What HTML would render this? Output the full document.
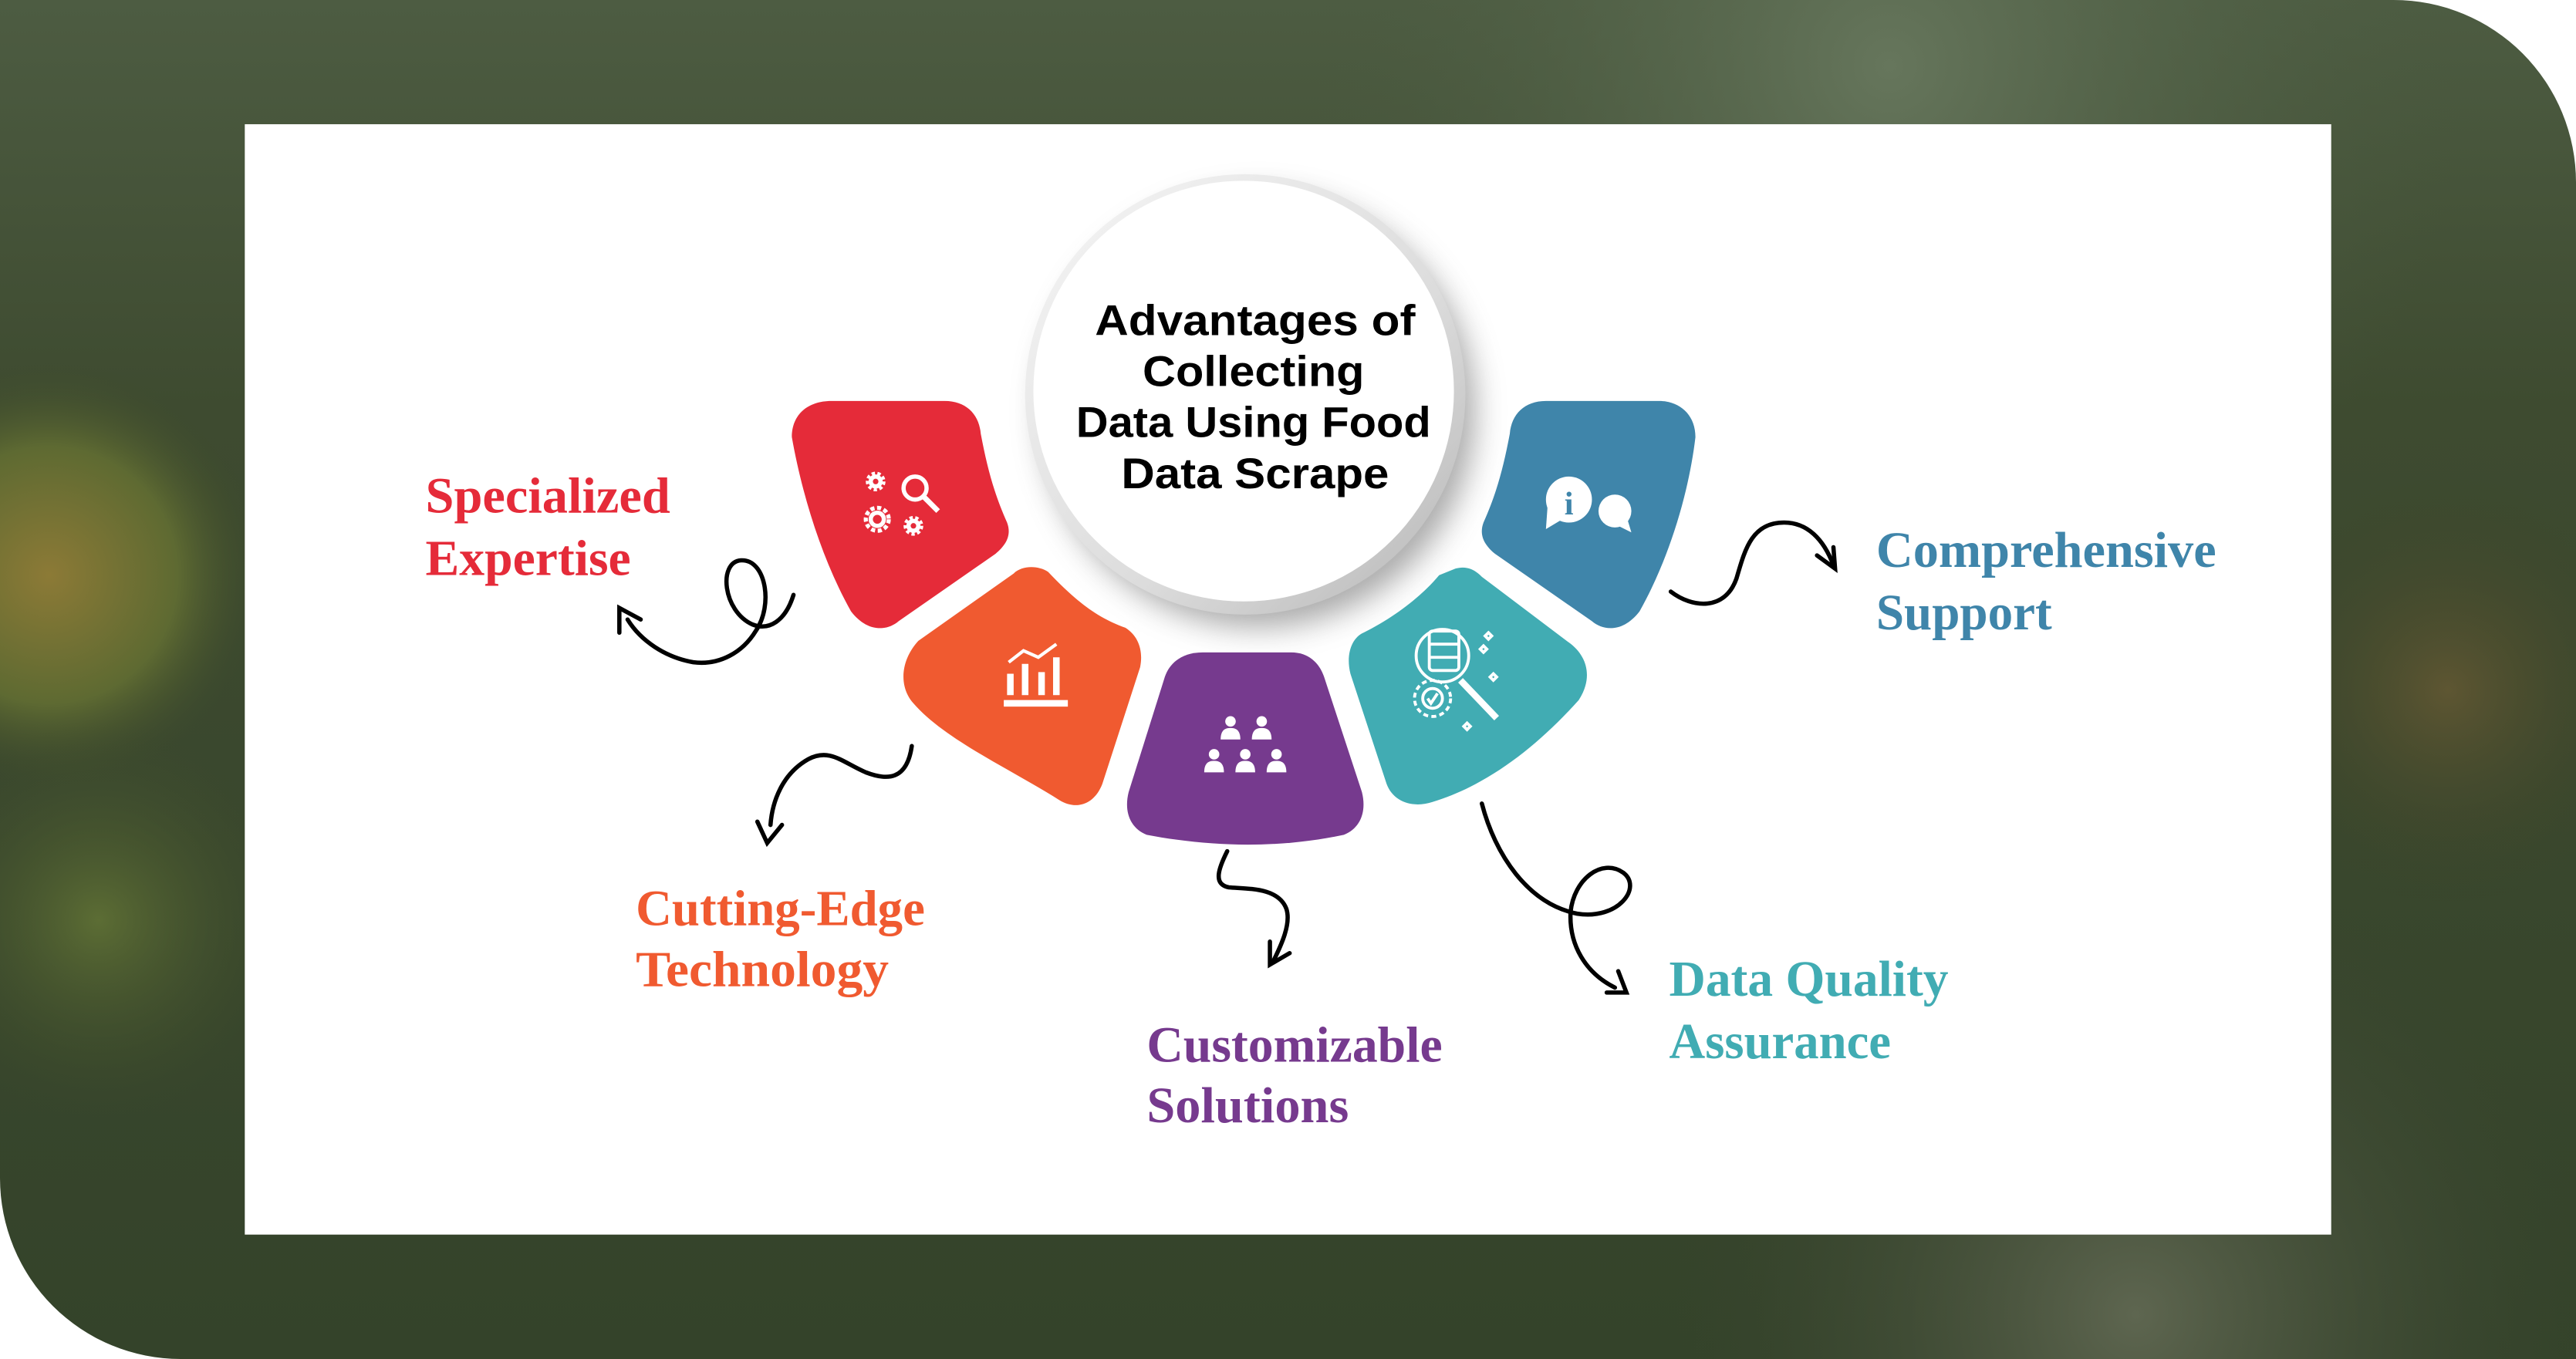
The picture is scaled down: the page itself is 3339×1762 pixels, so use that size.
<!DOCTYPE html>
<html><head><meta charset="utf-8">
<style>html,body{margin:0;padding:0;background:#fff;}svg{display:block}</style>
</head><body>
<svg width="3339" height="1762" viewBox="0 0 1568 827" xmlns="http://www.w3.org/2000/svg" preserveAspectRatio="none">
<defs>
<clipPath id="frame"><path d="M0,0 H1457 A111,111 0 0 1 1568,111 V827 H110 A110,110 0 0 1 0,717 Z"/></clipPath>
<linearGradient id="vg" x1="0" y1="0" x2="0" y2="1"><stop offset="0" stop-color="#4d5c42"/><stop offset="0.3" stop-color="#3e4b30"/><stop offset="1" stop-color="#34432a"/></linearGradient>
<radialGradient id="g1" cx="30" cy="350" r="130" gradientUnits="userSpaceOnUse"><stop offset="0" stop-color="#8c7a36"/><stop offset="0.6" stop-color="#5e6a32"/><stop offset="1" stop-color="#3d4a2a" stop-opacity="0"/></radialGradient>
<radialGradient id="g2" cx="60" cy="560" r="120" gradientUnits="userSpaceOnUse"><stop offset="0" stop-color="#5c6d34"/><stop offset="1" stop-color="#3d4a2a" stop-opacity="0"/></radialGradient>
<radialGradient id="g3" cx="1150" cy="40" r="350" gradientUnits="userSpaceOnUse"><stop offset="0" stop-color="#66765c"/><stop offset="1" stop-color="#4a5a40" stop-opacity="0"/></radialGradient>
<radialGradient id="g4" cx="1490" cy="420" r="130" gradientUnits="userSpaceOnUse"><stop offset="0" stop-color="#5e5632"/><stop offset="1" stop-color="#3a4228" stop-opacity="0"/></radialGradient>
<radialGradient id="g5" cx="1300" cy="800" r="280" gradientUnits="userSpaceOnUse"><stop offset="0" stop-color="#5e6650"/><stop offset="1" stop-color="#3a4430" stop-opacity="0"/></radialGradient>
<filter id="blur" x="-30%" y="-30%" width="160%" height="160%"><feGaussianBlur stdDeviation="9"/></filter>
<linearGradient id="ring" x1="0" y1="0" x2="1" y2="1"><stop offset="0" stop-color="#f6f6f6"/><stop offset="0.6" stop-color="#dcdcdc"/><stop offset="1" stop-color="#b5b5b5"/></linearGradient>
<g id="p"><circle cx="0" cy="0" r="3.2"/><path d="M-6,11 C-6,5 -3,4 0,4 C3,4 6,5 6,11 Z"/></g>
</defs>
<g clip-path="url(#frame)">
<rect width="1568" height="827" fill="url(#vg)"/>
<rect width="1568" height="827" fill="url(#g3)"/>
<rect width="1568" height="827" fill="url(#g1)"/>
<rect width="1568" height="827" fill="url(#g2)"/>
<rect width="1568" height="827" fill="url(#g4)"/>
<rect width="1568" height="827" fill="url(#g5)"/>
</g>
<rect x="149" y="75.6" width="1270" height="675.7" fill="#fff"/>

<circle cx="766" cy="250" r="132" fill="#666" opacity="0.55" filter="url(#blur)"/>
<circle cx="758" cy="240" r="134" fill="url(#ring)"/>
<circle cx="757" cy="238" r="128" fill="#fff"/>
<g font-family="'Liberation Sans',sans-serif" font-weight="bold" font-size="26" fill="#000" text-anchor="middle">
<text x="764" y="204" textLength="195" lengthAdjust="spacingAndGlyphs">Advantages of</text>
<text x="763" y="235" textLength="135" lengthAdjust="spacingAndGlyphs">Collecting</text>
<text x="763" y="266" textLength="216" lengthAdjust="spacingAndGlyphs">Data Using Food</text>
<text x="764" y="297" textLength="163" lengthAdjust="spacingAndGlyphs">Data Scrape</text>
</g>

<path fill="#e52b39" d="M482,266 C482,252 492,244 506,244 L575,244 C588,244 596,252 597,264 C601,285 605,300 613,318 C616,326 612,332 606,337 L547,378 C540,384 528,385 518,372 C500,340 488,300 482,266 Z"/>
<path fill="#f05a30" d="M617,349 C622,344 632,344 638,348 C655,366 668,376 685,382 C693,387 696,396 694,406 L671,477 C666,490 655,493 645,487 C615,468 575,450 556,428 C547,418 548,402 559,390 Z"/>
<path fill="#763a8e" d="M732,397 L786,397 C796,397 803,403 806,412 L829,482 C832,494 828,504 818,508 C780,516 740,516 698,508 C688,504 684,494 687,482 L709,412 C712,403 720,397 732,397 Z"/>
<path fill="#41acb3" d="M886,346 C893,344 898,347 902,351 L955,391 C966,399 970,412 961,426 C935,455 905,478 872,488 C860,492 848,488 844,477 L822,410 C819,398 823,388 830,385 C850,375 866,362 876,350 Z"/>
<path fill="#3f85aa" d="M1032,266 C1032,252 1022,244 1010,244 L941,244 C928,244 920,252 919,264 C915,285 911,300 903,318 C900,326 904,332 910,337 L969,378 C976,384 988,385 998,372 C1016,340 1028,300 1032,266 Z"/>

<g fill="none" stroke="#fff" stroke-width="2.6">
 <circle cx="557" cy="297" r="7"/><line x1="562" y1="302" x2="571" y2="311" stroke-width="3.2"/>
 <circle cx="533" cy="293" r="3"/><circle cx="534" cy="316" r="4"/><circle cx="556" cy="320" r="3"/>
</g>
<g fill="#fff">
 <circle cx="533" cy="293" r="5" fill="none" stroke="#fff" stroke-width="2" stroke-dasharray="2 1.5"/>
 <circle cx="534" cy="316" r="7" fill="none" stroke="#fff" stroke-width="2.5" stroke-dasharray="2.5 1.6"/>
 <circle cx="556" cy="320" r="5" fill="none" stroke="#fff" stroke-width="2" stroke-dasharray="2 1.5"/>
 <rect x="611" y="426" width="39" height="4"/>
 <rect x="613" y="410" width="4" height="13"/><rect x="622" y="404" width="4" height="19"/><rect x="632" y="409" width="4" height="14"/><rect x="641" y="400" width="4" height="23"/>
</g>
<polyline points="614,403 623,396 632,400 643,392" fill="none" stroke="#fff" stroke-width="2"/>
<g fill="#fff">
 <use href="#p" x="749" y="439"/><use href="#p" x="768" y="439"/>
 <use href="#p" x="739" y="459"/><use href="#p" x="758" y="459"/><use href="#p" x="777" y="459"/>
</g>
<g fill="none" stroke="#fff" stroke-width="1.8">
 <rect x="870" y="384" width="18" height="24" rx="2"/><line x1="870" y1="392" x2="888" y2="392"/><line x1="870" y1="400" x2="888" y2="400"/>
 <circle cx="878" cy="399" r="16"/>
 <line x1="889" y1="414" x2="911" y2="437" stroke-width="4"/>
 <circle cx="872" cy="425" r="11" stroke-dasharray="3 2"/><circle cx="872" cy="425" r="6"/>
 <polyline points="869,425 871,428 875,422"/>
 <path d="M906,385 l2,2 l-2,2 l-2,-2z M903,393 l2,2 l-2,2 l-2,-2z M909,410 l2,2 l-2,2 l-2,-2z M893,440 l2,2 l-2,2 l-2,-2z"/>
</g>
<g fill="#fff">
 <circle cx="955" cy="304" r="14"/><path d="M942,308 L941,322 L951,316 Z"/>
 <circle cx="983" cy="311" r="10"/><path d="M990,314 L993,324 L983,319 Z"/>
</g>
<text x="955" y="313" font-family="'Liberation Serif',serif" font-weight="bold" font-size="20" fill="#3f85aa" text-anchor="middle">i</text>

<g fill="none" stroke="#000" stroke-width="2.6" stroke-linecap="round">
 <path d="M483,362 C478,378 468,384 458,380 C440,372 437,342 451,341 C466,340 471,368 460,384 C452,397 438,405 422,403 C405,400 390,390 382,377"/>
 <polyline points="377,385 377,370 390,377"/>
 <path d="M555,454 C552,475 540,475 527,470 C513,464 505,455 492,462 C476,471 470,488 469,502"/>
 <polyline points="461,500 467,513 476,502"/>
 <path d="M747,518 C742,528 738,538 748,540 C760,541 778,540 783,553 C786,562 780,575 775,585"/>
 <polyline points="773,573 773,587 785,580"/>
 <path d="M902,489 C910,520 930,550 960,556 C985,560 1000,540 988,531 C975,522 958,535 956,555 C955,575 965,592 983,601"/>
 <polyline points="985,591 990,604 978,604"/>
 <path d="M1017,360 C1030,370 1050,372 1057,352 C1062,335 1066,318 1086,318 C1100,318 1110,328 1116,344"/>
 <polyline points="1106,338 1117,346 1116,333"/>
</g>

<g font-family="'Liberation Serif',serif" font-weight="bold" font-size="31">
<text x="259" y="312" fill="#e52b39" textLength="149" lengthAdjust="spacingAndGlyphs">Specialized</text>
<text x="259" y="350" fill="#e52b39" textLength="125" lengthAdjust="spacingAndGlyphs">Expertise</text>
<text x="387" y="563" fill="#f05a30" textLength="176" lengthAdjust="spacingAndGlyphs">Cutting-Edge</text>
<text x="387" y="600" fill="#f05a30" textLength="154" lengthAdjust="spacingAndGlyphs">Technology</text>
<text x="698" y="646" fill="#763a8e" textLength="180" lengthAdjust="spacingAndGlyphs">Customizable</text>
<text x="698" y="683" fill="#763a8e" textLength="123" lengthAdjust="spacingAndGlyphs">Solutions</text>
<text x="1016" y="606" fill="#41acb3" textLength="170" lengthAdjust="spacingAndGlyphs">Data Quality</text>
<text x="1016" y="644" fill="#41acb3" textLength="135" lengthAdjust="spacingAndGlyphs">Assurance</text>
<text x="1142" y="345" fill="#3f85aa" textLength="207" lengthAdjust="spacingAndGlyphs">Comprehensive</text>
<text x="1142" y="383" fill="#3f85aa" textLength="107" lengthAdjust="spacingAndGlyphs">Support</text>
</g>
</svg>
</body></html>
